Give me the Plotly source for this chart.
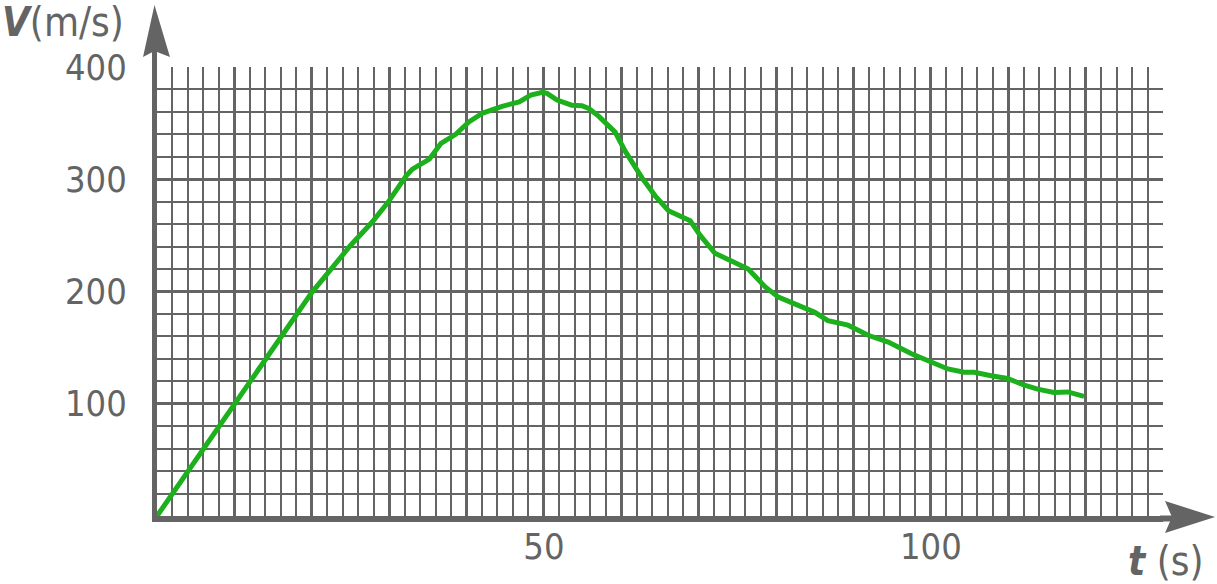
import plotly.graph_objects as go

# velocity readings off the graph paper
t_values = [0, 5, 10, 15, 20, 25, 27.7, 29.8, 32.2, 33, 35.2, 36.7, 38.6, 40.3, 42.1,
            44.6, 46.8, 48.3, 49.8, 50.4, 51.7, 53.6, 54.9, 55.8, 57.1, 59.2, 60.5,
            62.7, 64.4, 66.1, 67.8, 68.9, 70.2, 72.1, 74.3, 76.4, 78.6, 80.3, 82.4,
            85, 86.7, 89.3, 91.9, 94.5, 97.5, 100, 102.2, 104.3, 105.6, 107.8, 109.9,
            112.1, 113.8, 115.9, 117.7, 119.8]
v_values = [0, 50, 100, 150, 199, 241, 261, 279, 303, 309, 318, 332, 340, 351, 359,
            365, 369, 375, 377.5, 376.5, 370.5, 366, 365.5, 363, 356, 342, 325,
            301, 285, 272, 267, 263, 250, 234, 227, 220, 204, 195, 189,
            181.5, 174, 170, 161, 155, 144.5, 137, 131, 128, 128, 125, 122.5,
            116.5, 113, 110, 110.5, 106.5]

x_ticks = list(range(0, 131, 10))
x_labels = ["50" if v == 50 else "100" if v == 100 else "" for v in x_ticks]
x_minor = list(range(0, 131, 2))
y_ticks = [0, 100, 200, 300, 400]
y_labels = ["", "100", "200", "300", "400"]
y_minor = list(range(0, 401, 20))

grey = "#646464"
font_name = "DejaVu Sans Condensed, DejaVu Sans"

fig = go.Figure()
fig.add_trace(go.Scatter(x=t_values, y=v_values, mode="lines",
                         line=dict(color="#1cb01c", width=5), showlegend=False))

fig.update_xaxes(range=[0, 130], tickvals=x_ticks, ticktext=x_labels, automargin=False,
                 showgrid=True, gridcolor=grey, gridwidth=3,
                 minor=dict(tickmode="array", tickvals=x_minor, showgrid=True,
                            gridcolor=grey, gridwidth=1.6),
                 showline=True, linecolor=grey, linewidth=6, zeroline=False,
                 ticks="", ticklabelstandoff=-6,
                 tickfont=dict(family=font_name, size=36, color=grey))
fig.update_yaxes(range=[0, 400], tickvals=y_ticks, ticktext=y_labels, automargin=False,
                 showgrid=True, gridcolor=grey, gridwidth=3,
                 minor=dict(tickmode="array", tickvals=y_minor, showgrid=True,
                            gridcolor=grey, gridwidth=1.6),
                 showline=True, linecolor=grey, linewidth=5, zeroline=False,
                 ticks="", ticklabelstandoff=18,
                 tickfont=dict(family=font_name, size=36, color=grey))

# arrow heads on the axes (paper coords: px -> ((px-157)/1006, (516-py)/449))
def px(x, y):
    return (x - 157) / 1006, (516 - y) / 449

def path(points):
    s = ""
    for i, (x, y) in enumerate(points):
        a, b = px(x, y)
        s += ("M" if i == 0 else "L") + f"{a:.4f},{b:.4f} "
    return s + "Z"

fig.add_shape(type="path", xref="paper", yref="paper", line_width=0, fillcolor=grey,
              path=path([(1165, 501), (1215, 517), (1165, 533), (1172, 517)]))
fig.add_shape(type="path", xref="paper", yref="paper", line_width=0, fillcolor=grey,
              path=path([(143, 57), (154.5, 5), (170, 57), (154.5, 51)]))
x0, y0 = px(154.5, 68)
x1, y1 = px(154.5, 50)
fig.add_shape(type="line", xref="paper", yref="paper", x0=x0, y0=y0, x1=x1, y1=y1,
              line=dict(color=grey, width=5))
x0, y0 = px(1160, 518.5)
x1, y1 = px(1172, 518.5)
fig.add_shape(type="line", xref="paper", yref="paper", x0=x0, y0=y0, x1=x1, y1=y1,
              line=dict(color=grey, width=6))

ax, ay = px(0, 22)
fig.add_annotation(x=ax, y=ay, xref="paper", yref="paper", xanchor="left", yanchor="middle",
                   text="<b><i>V</i></b>(m/s)", showarrow=False,
                   font=dict(family=font_name, size=40, color=grey))
ax, ay = px(1205, 561)
fig.add_annotation(x=ax, y=ay, xref="paper", yref="paper", xanchor="right", yanchor="middle",
                   text="<b><i>t</i></b> (s)", showarrow=False,
                   font=dict(family=font_name, size=40, color=grey))

fig.update_layout(width=1217, height=584, plot_bgcolor="white", paper_bgcolor="white",
                  margin=dict(l=157, r=54, t=67, b=68), showlegend=False)

# page body has a default 8px margin; drop it so the figure fills the window
fig.write_html("out.html", config={"displayModeBar": False},
               post_script="document.body.style.margin='0';")
